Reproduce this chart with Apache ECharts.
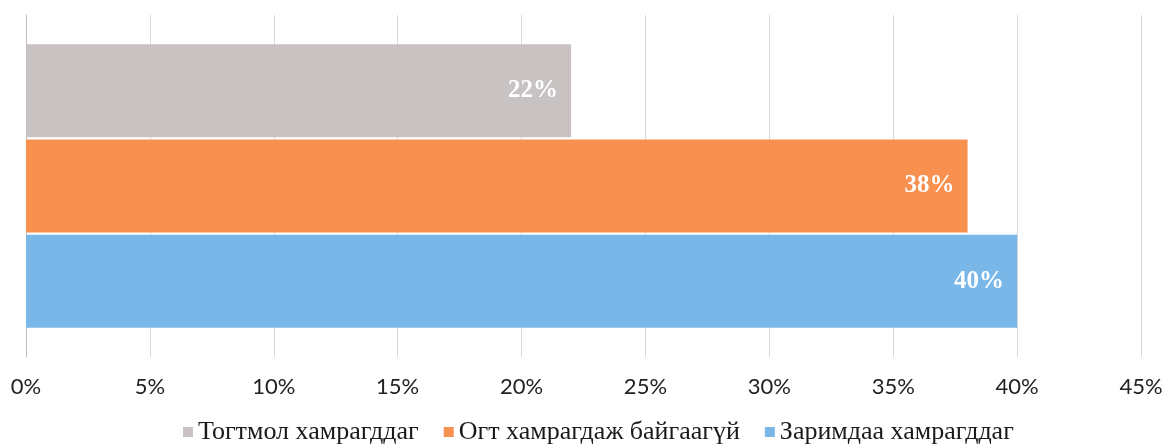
<!DOCTYPE html>
<html>
<head>
<meta charset="utf-8">
<script src="https://cdn.jsdelivr.net/npm/echarts@6/dist/echarts.min.js"></script>
<style>
html,body{margin:0;padding:0;background:#fff;}
#chart{width:1166px;height:448px;}
</style>
</head>
<body>
<div id="chart"></div>
<script>
// өгөгдөл
const categories = ['']
const seriesNames = ['Тогтмол хамрагддаг', 'Огт хамрагдаж байгаагүй', 'Заримдаа хамрагддаг']
const seriesValues = [[22], [38], [40]]
const colors = ['#c8c2c2', '#f8914f', '#7ab7e9']
const xTicks = [0, 5, 10, 15, 20, 25, 30, 35, 40, 45]

const chart = echarts.init(document.getElementById('chart'))

const option = {
  animation: false,
  color: colors,
  grid: {left: 26, right: 25, top: 15, bottom: 91},
  legend: {
    data: seriesNames,
    top: 414,
    left: 178,
    itemWidth: 10,
    itemHeight: 10,
    itemGap: 25,
    icon: 'rect',
    textStyle: {fontFamily: 'Liberation Serif', fontSize: 26, color: '#1a1a1a'}
  },
  xAxis: {
    type: 'value',
    min: xTicks[0],
    max: xTicks[xTicks.length - 1],
    interval: 5,
    axisLine: {show: false},
    axisTick: {show: false},
    splitLine: {lineStyle: {color: '#d9d9d9', width: 1}},
    axisLabel: {
      formatter: '{value}%',
      margin: 19,
      fontFamily: 'Lato',
      fontSize: 22,
      color: '#222'
    }
  },
  yAxis: {
    type: 'category',
    data: categories,
    inverse: true,
    axisLine: {show: true, lineStyle: {color: '#bdbdbd'}},
    axisTick: {show: false},
    axisLabel: {show: false}
  },
  series: seriesNames.map((name, i) => ({
    name: name,
    type: 'bar',
    data: seriesValues[i],
    barWidth: 93,
    barGap: '2.5%',
    label: {
      show: true,
      position: 'insideRight',
      distance: 13,
      formatter: '{c}%',
      color: '#fff',
      fontFamily: 'Liberation Serif',
      fontWeight: 'bold',
      fontSize: 25
    }
  }))
}

chart.setOption(option)
</script>
</body>
</html>
